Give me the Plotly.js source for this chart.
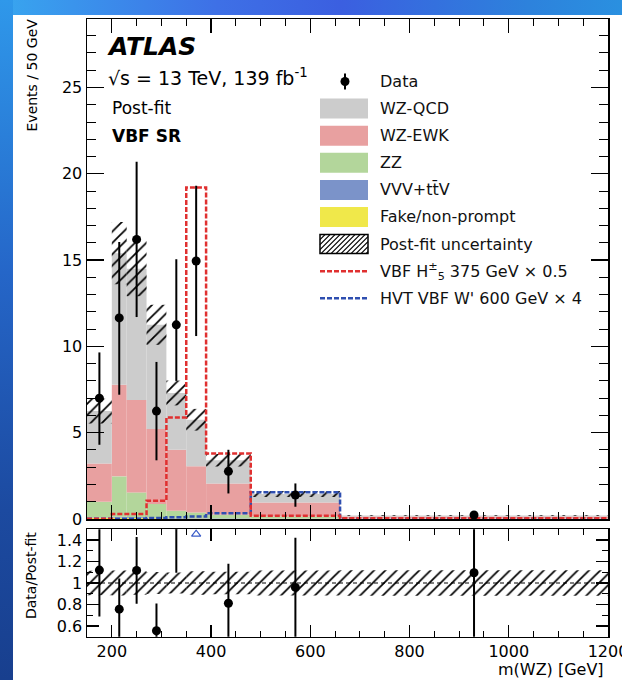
<!DOCTYPE html>
<html>
<head>
<meta charset="utf-8">
<script src="https://cdn.plot.ly/plotly-3.0.1.min.js"></script>
<style>
  html, body { margin: 0; padding: 0; background: #ffffff; overflow: hidden; }
  #band-top { position: absolute; left: 0; top: 0; width: 622px; height: 15px;
    background: linear-gradient(to right, #38a6ef 0%, #3e70e6 35%, #3b5fe0 55%, #2d82dc 85%, #2a90e0 100%); }
  #band-left { position: absolute; left: 0; top: 0; width: 13px; height: 680px;
    background: linear-gradient(to bottom, #2f98ea 0%, #2566c8 40%, #1c4aa0 75%, #183f8e 100%); }
  #plot { position: absolute; left: 0; top: 0; width: 650px; height: 680px; }
</style>
</head>
<body>
<div id="band-top"></div>
<div id="band-left"></div>
<div id="plot"></div>
<script>
// m(WZ) binning [GeV]; all yields are events per 50 GeV
const binEdges = [150, 200, 230, 270, 310, 350, 390, 480, 660, 1200];

const dataYield    = [7.0, 11.65, 16.2, 6.25, 11.25, 14.95, 2.76, 1.39, 0.23];
const dataErrUp    = [2.65, 4.4, 4.5, 2.85, 3.8, 4.35, 1.25, 0.67, 0.15];
const dataErrDown  = [2.7, 4.45, 4.5, 2.85, 3.25, 4.35, 1.28, 0.68, 0.15];

// post-fit backgrounds, bottom of the stack first
const fakeYield = [0.06, 0.08, 0.06, 0.05, 0.03, 0.03, 0.02, 0.01, 0.003];
const vvvYield  = [0.03, 0.05, 0.05, 0.04, 0.04, 0.03, 0.03, 0.02, 0.005];
const zzYield   = [0.91, 2.34, 1.43, 0.78, 0.41, 0.32, 0.20, 0.12, 0.022];
const ewkYield  = [2.22, 5.31, 5.35, 4.34, 3.53, 2.67, 1.81, 0.81, 0.12];
const qcdYield  = [3.03, 7.62, 7.61, 6.04, 3.29, 2.70, 1.34, 0.49, 0.06];
const postFitUnc = [0.72, 1.8, 1.6, 1.16, 0.72, 0.63, 0.36, 0.17, 0.025];

// signal hypotheses (scaled)
const h5Yield     = [0.02, 0.29, 0.29, 1.06, 5.88, 19.2, 3.8, 0.19, 0.05];
const wprimeYield = [0.01, 0.01, 0.01, 0.06, 0.10, 0.15, 0.33, 1.55, 0.02];

const FONT = 'DejaVu Sans';
// the drawing area is a little wider than the window so the last tick label runs off the edge
const W = 650, H = 680;
const px = v => v / W;
const py = v => 1 - v / H;

const nBins = binEdges.length - 1;
const centers = [], widths = [];
for (let i = 0; i < nBins; i++) {
  centers.push((binEdges[i] + binEdges[i + 1]) / 2);
  widths.push(binEdges[i + 1] - binEdges[i]);
}

const stack = [
  { name: 'Fake/non-prompt', y: fakeYield, color: '#f0e84a' },
  { name: 'VVV+tt̄V',        y: vvvYield,  color: '#7b93c9' },
  { name: 'ZZ',              y: zzYield,   color: '#b3d69b' },
  { name: 'WZ-EWK',          y: ewkYield,  color: '#e8a0a0' },
  { name: 'WZ-QCD',          y: qcdYield,  color: '#cccccc' }
];

const traces = [];
const cum = new Array(nBins).fill(0);
stack.forEach(s => {
  traces.push({
    type: 'bar', x: centers, width: widths, y: s.y.slice(), base: cum.slice(),
    marker: { color: s.color, line: { width: 0 } },
    xaxis: 'x', yaxis: 'y', showlegend: false, hoverinfo: 'skip'
  });
  for (let i = 0; i < nBins; i++) cum[i] += s.y[i];
});
const total = cum.slice();

const hatch = { shape: '/', fgcolor: '#000000', bgcolor: 'rgba(0,0,0,0)', size: 8, solidity: 0.22 };

// post-fit uncertainty band on the total
traces.push({
  type: 'bar', x: centers, width: widths,
  y: postFitUnc.map(u => 2 * u), base: total.map((t, i) => t - postFitUnc[i]),
  marker: { color: 'rgba(0,0,0,0)', line: { width: 0 }, pattern: hatch },
  xaxis: 'x', yaxis: 'y', showlegend: false, hoverinfo: 'skip'
});

function stepTrace(vals, color) {
  const xs = binEdges.slice();
  const ys = vals.concat([vals[vals.length - 1]]);
  return {
    type: 'scatter', mode: 'lines', x: xs, y: ys,
    line: { shape: 'hv', color: color, width: 2.5, dash: '5px,2px' },
    xaxis: 'x', yaxis: 'y', showlegend: false, hoverinfo: 'skip'
  };
}
traces.push(stepTrace(wprimeYield, '#2f4fb0'));
traces.push(stepTrace(h5Yield, '#e03030'));

traces.push({
  type: 'scatter', mode: 'markers', x: centers, y: dataYield,
  marker: { color: '#000000', size: 9 },
  error_y: { type: 'data', symmetric: false, array: dataErrUp, arrayminus: dataErrDown,
             color: '#000000', thickness: 2, width: 0 },
  xaxis: 'x', yaxis: 'y', showlegend: false, hoverinfo: 'skip'
});

// ratio panel
const RATIO_MAX = 1.5, RATIO_MIN = 0.5;
const relUnc = postFitUnc.map((u, i) => u / total[i]);
traces.push({
  type: 'bar', x: centers, width: widths,
  y: relUnc.map(r => 2 * r), base: relUnc.map(r => 1 - r),
  marker: { color: 'rgba(0,0,0,0)', line: { width: 0 }, pattern: hatch },
  xaxis: 'x2', yaxis: 'y2', showlegend: false, hoverinfo: 'skip'
});

const ratio = dataYield.map((d, i) => d / total[i]);
const rUp = dataErrUp.map((e, i) => e / total[i]);
const rDown = dataErrDown.map((e, i) => e / total[i]);
const inX = [], inY = [], inUp = [], inDown = [], offX = [], offY = [];
for (let i = 0; i < nBins; i++) {
  if (ratio[i] - rDown[i] > RATIO_MAX) { offX.push(centers[i]); offY.push(RATIO_MAX - 0.045); }
  else { inX.push(centers[i]); inY.push(ratio[i]); inUp.push(rUp[i]); inDown.push(rDown[i]); }
}
traces.push({
  type: 'scatter', mode: 'markers', x: inX, y: inY,
  marker: { color: '#000000', size: 9 },
  error_y: { type: 'data', symmetric: false, array: inUp, arrayminus: inDown,
             color: '#000000', thickness: 2, width: 0 },
  xaxis: 'x2', yaxis: 'y2', showlegend: false, hoverinfo: 'skip'
});
traces.push({
  type: 'scatter', mode: 'markers', x: offX, y: offY,
  marker: { color: '#3a5cc8', size: 8, symbol: 'triangle-up-open', line: { width: 1.2 } },
  xaxis: 'x2', yaxis: 'y2', showlegend: false, hoverinfo: 'skip'
});

const tickFont = { family: FONT, size: 16, color: '#000000' };
const xDomain = [px(87), px(608)];

function frameAxis(extra) {
  return Object.assign({
    showline: true, linecolor: '#000000', linewidth: 1.5, mirror: 'ticks',
    ticks: 'inside', tickcolor: '#000000', tickwidth: 1.2,
    showgrid: false, zeroline: false, tickfont: tickFont, fixedrange: true
  }, extra);
}

// legend drawn as annotations + shapes
const legendRows = [81.5, 108.6, 135.7, 162.8, 189.9, 217.0, 244.1, 271.2, 298.3];
const legendText = ['Data', 'WZ-QCD', 'WZ-EWK', 'ZZ', 'VVV+tt̄V', 'Fake/non-prompt',
  'Post-fit uncertainty', 'VBF H<sup>±</sup><sub>5</sub> 375 GeV × 0.5', "HVT VBF W' 600 GeV × 4"];
const swatchColors = [null, '#cccccc', '#e8a0a0', '#b3d69b', '#7b93c9', '#f0e84a'];

const shapes = [];
const annotations = [];
const SW0 = 320, SW1 = 368;

legendText.forEach((t, i) => {
  annotations.push({ xref: 'paper', yref: 'paper', x: px(378), y: py(legendRows[i]),
    xanchor: 'left', yanchor: 'middle', text: t, showarrow: false,
    font: { family: FONT, size: 16, color: '#111111' } });
});
// data marker
shapes.push({ type: 'line', xref: 'paper', yref: 'paper', x0: px(345), x1: px(345),
  y0: py(legendRows[0] - 8), y1: py(legendRows[0] + 8), line: { color: '#000', width: 2 } });
shapes.push({ type: 'circle', xref: 'paper', yref: 'paper', x0: px(340.5), x1: px(349.5),
  y0: py(legendRows[0] - 4.5), y1: py(legendRows[0] + 4.5), fillcolor: '#000', line: { width: 0 } });
for (let i = 1; i <= 5; i++) {
  shapes.push({ type: 'rect', xref: 'paper', yref: 'paper', x0: px(SW0), x1: px(SW1),
    y0: py(legendRows[i] - 10), y1: py(legendRows[i] + 10), fillcolor: swatchColors[i], line: { width: 0 } });
}
// hatched swatch
(function () {
  const y0 = legendRows[6] - 9.5, y1 = legendRows[6] + 9.5, h = y1 - y0;
  let d = '';
  for (let s = SW0 - h; s < SW1; s += 5) {
    let xa = s, ya = y1, xb = s + h, yb = y0;
    if (xa < SW0) { ya = y1 - (SW0 - xa); xa = SW0; }
    if (xb > SW1) { yb = y0 + (xb - SW1); xb = SW1; }
    d += 'M' + px(xa) + ',' + py(ya) + 'L' + px(xb) + ',' + py(yb);
  }
  shapes.push({ type: 'path', xref: 'paper', yref: 'paper', path: d, line: { color: '#000', width: 1.2 } });
  shapes.push({ type: 'rect', xref: 'paper', yref: 'paper', x0: px(SW0), x1: px(SW1),
    y0: py(y0), y1: py(y1), line: { color: '#000', width: 1.5 } });
})();
shapes.push({ type: 'line', xref: 'paper', yref: 'paper', x0: px(SW0), x1: px(SW1),
  y0: py(legendRows[7]), y1: py(legendRows[7]), line: { color: '#e03030', width: 2.5, dash: '5px,2px' } });
shapes.push({ type: 'line', xref: 'paper', yref: 'paper', x0: px(SW0), x1: px(SW1),
  y0: py(legendRows[8]), y1: py(legendRows[8]), line: { color: '#2f4fb0', width: 2.5, dash: '5px,2px' } });

// unity line in the ratio panel
shapes.push({ type: 'line', xref: 'x2', yref: 'y2', x0: binEdges[0], x1: binEdges[nBins], y0: 1, y1: 1,
  line: { color: '#000', width: 1, dash: '4px,3px' } });

// labels
annotations.push({ xref: 'paper', yref: 'paper', x: px(105), y: py(47), xanchor: 'left', yanchor: 'middle',
  text: '<b><i>ATLAS</i></b>', showarrow: false, font: { family: FONT, size: 25, color: '#000' } });
annotations.push({ xref: 'paper', yref: 'paper', x: px(106), y: py(77), xanchor: 'left', yanchor: 'middle',
  text: '√s = 13 TeV, 139 fb<sup>-1</sup>', showarrow: false, font: { family: FONT, size: 19, color: '#000' } });
annotations.push({ xref: 'paper', yref: 'paper', x: px(110), y: py(107.5), xanchor: 'left', yanchor: 'middle',
  text: 'Post-fit', showarrow: false, font: { family: FONT, size: 17, color: '#000' } });
annotations.push({ xref: 'paper', yref: 'paper', x: px(110), y: py(136.5), xanchor: 'left', yanchor: 'middle',
  text: '<b>VBF SR</b>', showarrow: false, font: { family: FONT, size: 17, color: '#000' } });
annotations.push({ xref: 'paper', yref: 'paper', x: px(31), y: py(17), xanchor: 'center', yanchor: 'top',
  textangle: -90, text: 'Events / 50 GeV', showarrow: false, font: { family: FONT, size: 14, color: '#000' } });
annotations.push({ xref: 'paper', yref: 'paper', x: px(31), y: py(576), xanchor: 'center', yanchor: 'middle',
  textangle: -90, text: 'Data/Post-fit', showarrow: false, font: { family: FONT, size: 14, color: '#000' } });
annotations.push({ xref: 'paper', yref: 'paper', x: px(606), y: py(669), xanchor: 'right', yanchor: 'middle',
  text: 'm(WZ) [GeV]', showarrow: false, font: { family: FONT, size: 16, color: '#000' } });

const layout = {
  width: W, height: H,
  margin: { l: 0, r: 0, t: 0, b: 0 },
  paper_bgcolor: 'rgba(0,0,0,0)', plot_bgcolor: 'rgba(0,0,0,0)',
  barmode: 'overlay', showlegend: false,
  xaxis: frameAxis({ domain: xDomain, range: [binEdges[0], binEdges[nBins]], anchor: 'y',
    tick0: 0, dtick: 200, ticklen: 14, showticklabels: false,
    minor: { tick0: 0, dtick: 50, ticklen: 7, ticks: 'inside', tickcolor: '#000', tickwidth: 1 } }),
  yaxis: frameAxis({ domain: [py(519), py(19.3)], range: [0, 28.95], anchor: 'x',
    tick0: 0, dtick: 5, ticklen: 17,
    minor: { tick0: 0, dtick: 1, ticklen: 9, ticks: 'inside', tickcolor: '#000', tickwidth: 1 } }),
  xaxis2: frameAxis({ domain: xDomain, range: [binEdges[0], binEdges[nBins]], anchor: 'y2',
    tick0: 0, dtick: 200, ticklen: 12,
    minor: { tick0: 0, dtick: 50, ticklen: 6, ticks: 'inside', tickcolor: '#000', tickwidth: 1 } }),
  yaxis2: frameAxis({ domain: [py(636.7), py(529.3)], range: [RATIO_MIN, RATIO_MAX], anchor: 'x2',
    tick0: 0, dtick: 0.2, ticklen: 12,
    minor: { tick0: 0, dtick: 0.1, ticklen: 6, ticks: 'inside', tickcolor: '#000', tickwidth: 1 } }),
  shapes: shapes,
  annotations: annotations
};

Plotly.newPlot('plot', traces, layout, { displayModeBar: false, staticPlot: true });
</script>
</body>
</html>
